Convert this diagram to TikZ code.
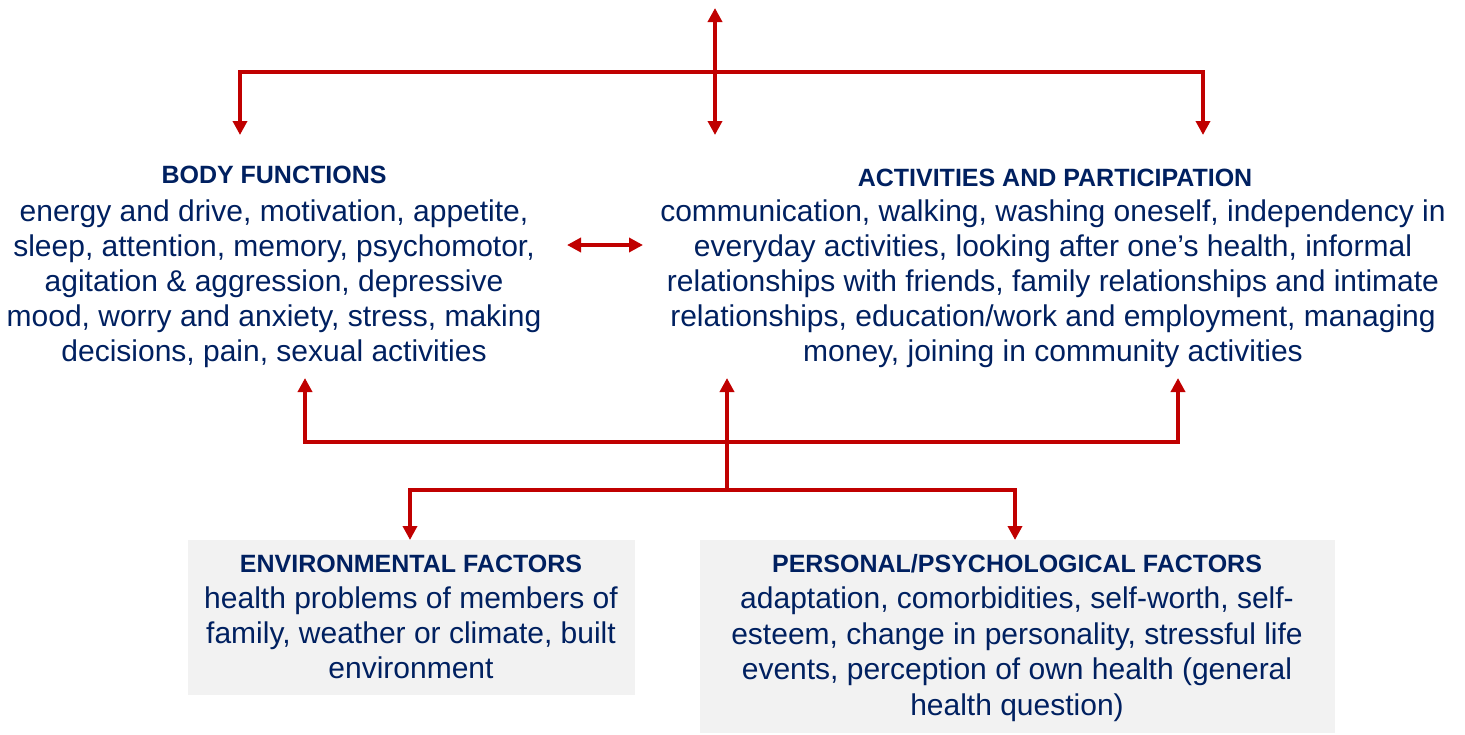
\documentclass[tikz,border=0pt]{standalone}
\usepackage{fontspec}
\setmainfont{Liberation Sans}
\usetikzlibrary{arrows.meta}
\definecolor{icfred}{RGB}{192,0,0}
\definecolor{icfnavy}{RGB}{0,32,96}
\definecolor{icfgray}{RGB}{242,242,242}
\begin{document}
\begin{tikzpicture}[x=1pt,y=-1pt,
  conn/.style={draw=icfred, line width=4pt, line join=miter},
  arr/.style={conn, -{Triangle[length=14pt,width=14pt]}},
  darr/.style={conn, {Triangle[length=14pt,width=14pt]}-{Triangle[length=14pt,width=14pt]}},
  headtxt/.style={text=icfnavy, inner sep=0pt, anchor=base, font=\fontsize{25}{29}\selectfont\bfseries},
  bodytxt/.style={text=icfnavy, inner sep=0pt, anchor=north, align=center, font=\fontsize{30}{34.8}\selectfont},
  graybox/.style={fill=icfgray, draw=none, inner sep=0pt}
]
\useasboundingbox (0,0) rectangle (1465,734);

% gray boxes
\node[graybox, minimum width=447pt, minimum height=155pt, anchor=north west] (envbox) at (188,540) {};
\node[graybox, minimum width=635pt, minimum height=193pt, anchor=north west] (perbox) at (700,540) {};

% texts
\node[headtxt] (bfh) at (274,183) {BODY FUNCTIONS};
\node[bodytxt] (bft) at (274,200) {energy and drive, motivation, appetite,\\
sleep, attention, memory, psychomotor,\\
agitation \& aggression, depressive\\
mood, worry and anxiety, stress, making\\
decisions, pain, sexual activities};

\node[headtxt] (aph) at (1055,186) {ACTIVITIES AND PARTICIPATION};
\node[bodytxt] (apt) at (1053,200) {communication, walking, washing oneself, independency in\\
everyday activities, looking after one’s health, informal\\
relationships with friends, family relationships and intimate\\
relationships, education/work and employment, managing\\
money, joining in community activities};

\node[headtxt] (envh) at (411,572) {ENVIRONMENTAL FACTORS};
\node[bodytxt] (envt) at (411,587) {health problems of members of\\
family, weather or climate, built\\
environment};

\node[headtxt] (perh) at (1017,572) {PERSONAL/PSYCHOLOGICAL FACTORS};
\node[bodytxt, font=\fontsize{30}{35.4}\selectfont] (pert) at (1017,587) {adaptation, comorbidities, self-worth, self-\\
esteem, change in personality, stressful life\\
events, perception of own health (general\\
health question)};

% coordinates
\coordinate (ttop) at (715,8);
\coordinate (tmid) at (715,135);
\coordinate (tj) at (715,72);
\coordinate (tl) at (240,135);
\coordinate (tr) at (1203,135);
\coordinate (ml) at (567,245);
\coordinate (mr) at (643,245);
\coordinate (ul) at (305,378);
\coordinate (um) at (727,378);
\coordinate (ur) at (1178,378);
\coordinate (bj) at (727,442);
\coordinate (lj) at (727,490);
\coordinate (dl) at (410,540);
\coordinate (dr) at (1015,540);

% top connectors
\draw[darr] (ttop) -- (tmid);
\draw[arr] (tj) -| (tl);
\draw[arr] (tj) -| (tr);
% middle
\draw[darr] (ml) -- (mr);
% bottom
\draw[arr] (bj) -| (ul);
\draw[arr] (bj) -| (ur);
\draw[arr] (lj) -- (um);
\draw[arr] (lj) -| (dl);
\draw[arr] (lj) -| (dr);
\end{tikzpicture}
\end{document}
